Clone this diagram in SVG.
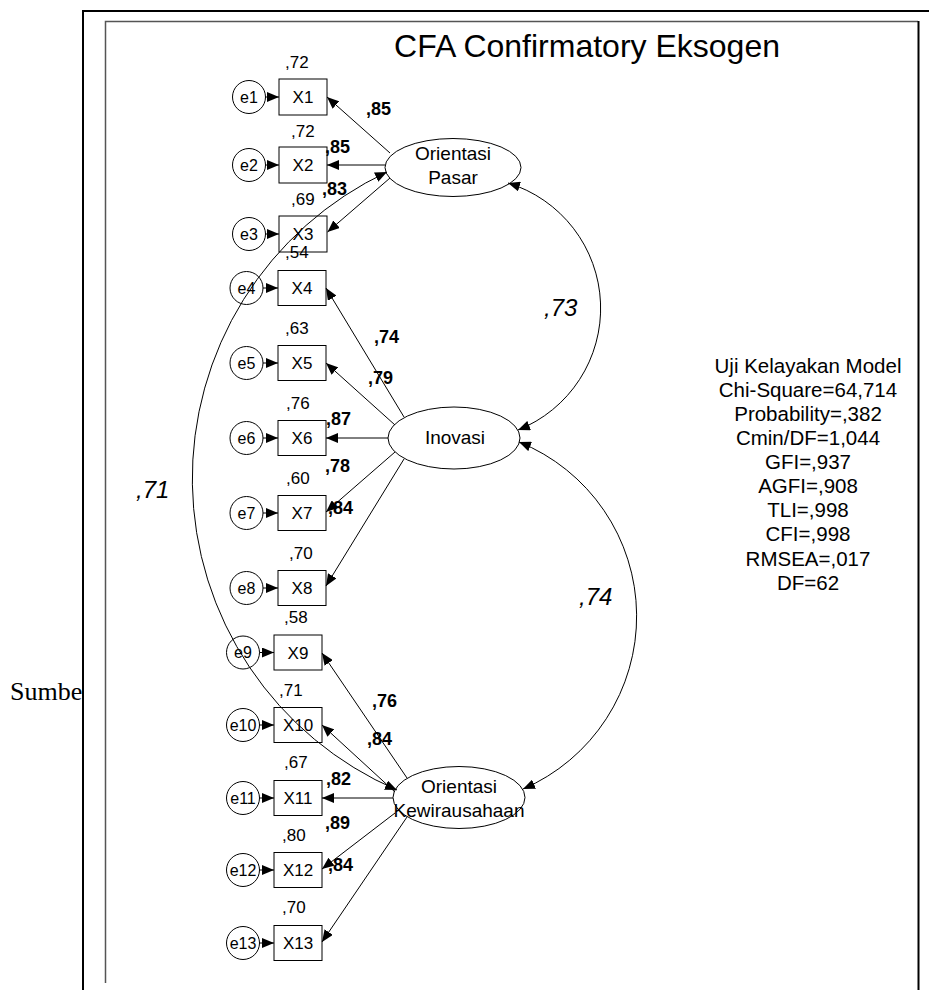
<svg xmlns="http://www.w3.org/2000/svg" width="929" height="990" viewBox="0 0 929 990">
  <defs>
    <style>
      .obs { fill: #fff; stroke: #000; stroke-width: 1; }
      .err { fill: #fff; stroke: #000; stroke-width: 1; }
      .lat { fill: #fff; stroke: #000; stroke-width: 1; }
      .edge { fill: none; stroke: #000; stroke-width: 1; marker-end: url(#arrow); }
      .cov { fill: none; stroke: #000; stroke-width: 1; marker-start: url(#arrow); marker-end: url(#arrow); }
      .t { font-family: "Liberation Sans", Arial, sans-serif; fill: #000; }
      .lbl { font-size: 17px; text-anchor: middle; }
      .elbl { font-size: 16px; text-anchor: middle; }
      .var { font-size: 17px; }
      .load { font-size: 18px; font-weight: bold; }
      .corr { font-size: 24px; font-style: italic; }
      .latlbl { font-size: 19px; text-anchor: middle; }
      .fit { font-size: 20.5px; text-anchor: middle; }
    </style>
    <marker id="arrow" markerUnits="userSpaceOnUse" markerWidth="12" markerHeight="10" refX="12" refY="5" orient="auto-start-reverse">
      <path d="M0,0 L12,5 L0,10 z" fill="#000"/>
    </marker>
    <clipPath id="leftMargin">
      <rect x="0" y="0" width="82" height="990"/>
    </clipPath>
  </defs>

  <rect x="0" y="0" width="929" height="990" fill="#fff"/>

  <!-- caption text running under the frame -->
  <text x="10" y="700" clip-path="url(#leftMargin)" style="font-family:'Liberation Serif','Times New Roman',serif;font-size:26px;fill:#000">Sumber</text>

  <!-- frame -->
  <g id="frame" fill="none">
    <path d="M83,990 L83,11 L929,11" stroke="#000" stroke-width="2"/>
    <path d="M105.5,983 L105.5,21.5 L918,21.5" stroke="#555" stroke-width="1.5"/>
    <path d="M918.5,21 L918.5,990" stroke="#000" stroke-width="2"/>
  </g>

  <text class="t" x="587" y="57" text-anchor="middle" font-size="32">CFA Confirmatory Eksogen</text>

  <!-- latent variables -->
  <g id="OrientasiPasar">
    <ellipse class="lat" cx="453" cy="167.5" rx="68" ry="29"/>
    <text class="t latlbl" x="453" y="160">Orientasi</text>
    <text class="t latlbl" x="453" y="183.5">Pasar</text>
  </g>
  <g id="Inovasi">
    <ellipse class="lat" cx="454" cy="438" rx="66" ry="31"/>
    <text class="t latlbl" x="455" y="443.5">Inovasi</text>
  </g>
  <g id="OrientasiKewirausahaan">
    <ellipse class="lat" cx="459" cy="797.5" rx="66" ry="31"/>
    <text class="t latlbl" x="459" y="793">Orientasi</text>
    <text class="t latlbl" x="459" y="816.5">Kewirausahaan</text>
  </g>

  <!-- indicators with error terms -->
  <g id="X1"><rect class="obs" x="279" y="79" width="48" height="36"/><text class="t lbl" x="303" y="103">X1</text></g>
  <g id="X2"><rect class="obs" x="279" y="147" width="48" height="36"/><text class="t lbl" x="303" y="171">X2</text></g>
  <g id="X3"><rect class="obs" x="279" y="216" width="48" height="36"/><text class="t lbl" x="303" y="240">X3</text></g>
  <g id="X4"><rect class="obs" x="278" y="270.5" width="48" height="35"/><text class="t lbl" x="302" y="294">X4</text></g>
  <g id="X5"><rect class="obs" x="278" y="345.5" width="48" height="35"/><text class="t lbl" x="302" y="369">X5</text></g>
  <g id="X6"><rect class="obs" x="278" y="420.5" width="48" height="35"/><text class="t lbl" x="302" y="444">X6</text></g>
  <g id="X7"><rect class="obs" x="278" y="495.5" width="48" height="35"/><text class="t lbl" x="302" y="519">X7</text></g>
  <g id="X8"><rect class="obs" x="278" y="570.5" width="48" height="35"/><text class="t lbl" x="302" y="594">X8</text></g>
  <g id="X9"><rect class="obs" x="274" y="635" width="48" height="35"/><text class="t lbl" x="298" y="658.5">X9</text></g>
  <g id="X10"><rect class="obs" x="274" y="707.5" width="48" height="35"/><text class="t lbl" x="298" y="731">X10</text></g>
  <g id="X11"><rect class="obs" x="274" y="780.5" width="48" height="35"/><text class="t lbl" x="298" y="804">X11</text></g>
  <g id="X12"><rect class="obs" x="274" y="852.5" width="48" height="35"/><text class="t lbl" x="298" y="876">X12</text></g>
  <g id="X13"><rect class="obs" x="274" y="925.5" width="48" height="35"/><text class="t lbl" x="298" y="949">X13</text></g>

  <g id="e1"><circle class="err" cx="249" cy="97" r="16.5"/><text class="t elbl" x="249" y="102.5">e1</text></g>
  <g id="e2"><circle class="err" cx="249" cy="165" r="16.5"/><text class="t elbl" x="249" y="170.5">e2</text></g>
  <g id="e3"><circle class="err" cx="249" cy="234" r="16.5"/><text class="t elbl" x="249" y="239.5">e3</text></g>
  <g id="e4"><circle class="err" cx="246.5" cy="288" r="16.5"/><text class="t elbl" x="246.5" y="293.5">e4</text></g>
  <g id="e5"><circle class="err" cx="246.5" cy="363" r="16.5"/><text class="t elbl" x="246.5" y="368.5">e5</text></g>
  <g id="e6"><circle class="err" cx="246.5" cy="438" r="16.5"/><text class="t elbl" x="246.5" y="443.5">e6</text></g>
  <g id="e7"><circle class="err" cx="246.5" cy="513" r="16.5"/><text class="t elbl" x="246.5" y="518.5">e7</text></g>
  <g id="e8"><circle class="err" cx="246.5" cy="588" r="16.5"/><text class="t elbl" x="246.5" y="593.5">e8</text></g>
  <g id="e9"><circle class="err" cx="243" cy="652.5" r="16.5"/><text class="t elbl" x="243" y="658">e9</text></g>
  <g id="e10"><circle class="err" cx="243" cy="725" r="16.5"/><text class="t elbl" x="243" y="730.5">e10</text></g>
  <g id="e11"><circle class="err" cx="243" cy="798" r="16.5"/><text class="t elbl" x="243" y="803.5">e11</text></g>
  <g id="e12"><circle class="err" cx="243" cy="870" r="16.5"/><text class="t elbl" x="243" y="875.5">e12</text></g>
  <g id="e13"><circle class="err" cx="243" cy="943" r="16.5"/><text class="t elbl" x="243" y="948.5">e13</text></g>

  <!-- connectors, drawn over the nodes -->
  <g id="connectors">
    <!-- error terms to indicators -->
    <line class="edge" x1="265.5" y1="97" x2="279" y2="97"/>
    <line class="edge" x1="265.5" y1="165" x2="279" y2="165"/>
    <line class="edge" x1="265.5" y1="234" x2="279" y2="234"/>
    <line class="edge" x1="263" y1="288" x2="278" y2="288"/>
    <line class="edge" x1="263" y1="363" x2="278" y2="363"/>
    <line class="edge" x1="263" y1="438" x2="278" y2="438"/>
    <line class="edge" x1="263" y1="513" x2="278" y2="513"/>
    <line class="edge" x1="263" y1="588" x2="278" y2="588"/>
    <line class="edge" x1="259.5" y1="652.5" x2="274" y2="652.5"/>
    <line class="edge" x1="259.5" y1="725" x2="274" y2="725"/>
    <line class="edge" x1="259.5" y1="798" x2="274" y2="798"/>
    <line class="edge" x1="259.5" y1="870" x2="274" y2="870"/>
    <line class="edge" x1="259.5" y1="943" x2="274" y2="943"/>

    <!-- Orientasi Pasar loadings -->
    <line class="edge" x1="390" y1="153" x2="327" y2="97"/>
    <line class="edge" x1="385" y1="165" x2="327" y2="165"/>
    <line class="edge" x1="390" y1="178" x2="327.5" y2="232"/>
    <!-- Inovasi loadings -->
    <line class="edge" x1="404" y1="417" x2="326" y2="288"/>
    <line class="edge" x1="395" y1="425" x2="326" y2="363"/>
    <line class="edge" x1="388" y1="438" x2="326" y2="438"/>
    <line class="edge" x1="395" y1="452" x2="326" y2="512"/>
    <line class="edge" x1="404" y1="459" x2="326" y2="586"/>
    <!-- Orientasi Kewirausahaan loadings -->
    <line class="edge" x1="407" y1="778" x2="322" y2="653"/>
    <line class="edge" x1="395" y1="792" x2="322" y2="725"/>
    <line class="edge" x1="393" y1="798" x2="322" y2="798"/>
    <line class="edge" x1="395" y1="813" x2="322" y2="869"/>
    <line class="edge" x1="407" y1="817" x2="322" y2="942"/>

    <!-- covariances -->
    <path class="cov" d="M387,172 A339,339 0 0 0 397,790"/>
    <path class="cov" d="M508,183 A131,131 0 0 1 518,430"/>
    <path class="cov" d="M519,442 A188,188 0 0 1 523,789"/>
  </g>

  <!-- squared multiple correlations -->
  <g id="smc">
    <text class="t var" x="285" y="68">,72</text>
    <text class="t var" x="291" y="137">,72</text>
    <text class="t var" x="291" y="205">,69</text>
    <text class="t var" x="285" y="258">,54</text>
    <text class="t var" x="285" y="334">,63</text>
    <text class="t var" x="286" y="409">,76</text>
    <text class="t var" x="286" y="484">,60</text>
    <text class="t var" x="289" y="559">,70</text>
    <text class="t var" x="284" y="623">,58</text>
    <text class="t var" x="279" y="696">,71</text>
    <text class="t var" x="284" y="768">,67</text>
    <text class="t var" x="282" y="841">,80</text>
    <text class="t var" x="282" y="913">,70</text>
  </g>

  <!-- standardized loadings -->
  <g id="loadings">
    <text class="t load" x="366" y="115">,85</text>
    <text class="t load" x="325" y="153">,85</text>
    <text class="t load" x="322" y="195">,83</text>
    <text class="t load" x="374" y="343">,74</text>
    <text class="t load" x="368" y="384">,79</text>
    <text class="t load" x="326" y="425">,87</text>
    <text class="t load" x="325" y="472">,78</text>
    <text class="t load" x="328" y="514">,84</text>
    <text class="t load" x="372" y="707">,76</text>
    <text class="t load" x="367" y="745">,84</text>
    <text class="t load" x="326" y="785">,82</text>
    <text class="t load" x="325" y="829">,89</text>
    <text class="t load" x="328" y="871">,84</text>
  </g>

  <!-- correlations -->
  <g id="correlations">
    <text class="t corr" x="136" y="498">,71</text>
    <text class="t corr" x="544" y="316">,73</text>
    <text class="t corr" x="579" y="605">,74</text>
  </g>

  <!-- model fit -->
  <g id="fit">
    <text class="t fit" x="808" y="372.5">Uji Kelayakan Model</text>
    <text class="t fit" x="808" y="396.5">Chi-Square=64,714</text>
    <text class="t fit" x="808" y="420.5">Probability=,382</text>
    <text class="t fit" x="808" y="444.5">Cmin/DF=1,044</text>
    <text class="t fit" x="808" y="469">GFI=,937</text>
    <text class="t fit" x="808" y="493">AGFI=,908</text>
    <text class="t fit" x="808" y="517">TLI=,998</text>
    <text class="t fit" x="808" y="541">CFI=,998</text>
    <text class="t fit" x="808" y="565.5">RMSEA=,017</text>
    <text class="t fit" x="808" y="589.5">DF=62</text>
  </g>
</svg>
